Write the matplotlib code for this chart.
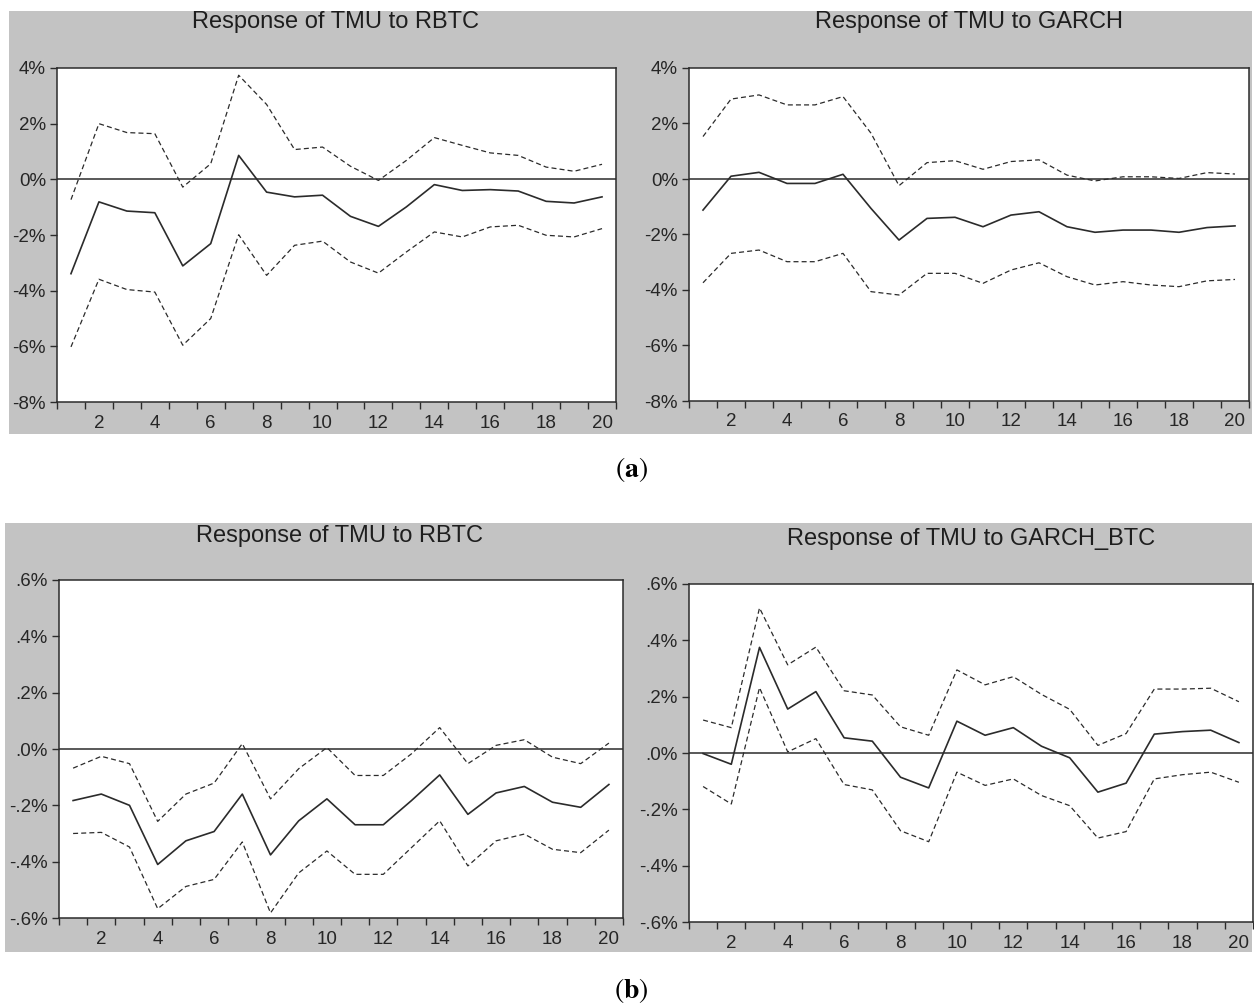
import matplotlib.pyplot as plt
import numpy as np
from matplotlib.patches import Rectangle
from matplotlib.ticker import FixedLocator, FixedFormatter

plt.rcParams['font.family'] = ['Liberation Sans', 'DejaVu Sans']
plt.rcParams['mathtext.fontset'] = 'stix'

periods = np.arange(1, 21)

# (a) response of TMU to RBTC, in %
a1_resp = [-3.39, -0.81, -1.14, -1.20, -3.11, -2.31, 0.86, -0.46, -0.63, -0.57,
           -1.33, -1.69, -0.99, -0.19, -0.40, -0.37, -0.42, -0.79, -0.85, -0.63]
a1_up = [-0.73, 2.00, 1.68, 1.64, -0.28, 0.56, 3.74, 2.69, 1.07, 1.16,
         0.47, -0.04, 0.68, 1.50, 1.22, 0.95, 0.86, 0.44, 0.29, 0.54]
a1_lo = [-6.02, -3.59, -3.96, -4.05, -5.96, -5.00, -1.99, -3.45, -2.37, -2.22,
         -2.97, -3.37, -2.61, -1.89, -2.07, -1.71, -1.65, -2.01, -2.07, -1.77]

# (a) response of TMU to GARCH
a2_resp = [-1.12, 0.10, 0.24, -0.16, -0.16, 0.17, -1.06, -2.20, -1.42, -1.38,
           -1.72, -1.30, -1.18, -1.72, -1.92, -1.84, -1.84, -1.92, -1.75, -1.69]
a2_up = [1.53, 2.88, 3.03, 2.67, 2.67, 2.97, 1.65, -0.24, 0.59, 0.66,
         0.35, 0.63, 0.69, 0.14, -0.07, 0.08, 0.08, 0.02, 0.23, 0.18]
a2_lo = [-3.74, -2.68, -2.56, -2.98, -2.98, -2.68, -4.06, -4.18, -3.40, -3.40,
         -3.76, -3.28, -3.02, -3.52, -3.82, -3.70, -3.82, -3.88, -3.67, -3.62]

# (b) response of TMU to RBTC
b1_resp = [-0.183, -0.160, -0.200, -0.410, -0.326, -0.293, -0.160, -0.376, -0.255, -0.177,
           -0.269, -0.269, -0.183, -0.092, -0.232, -0.156, -0.133, -0.189, -0.207, -0.126]
b1_up = [-0.068, -0.026, -0.052, -0.257, -0.160, -0.121, 0.019, -0.177, -0.070, 0.005,
         -0.094, -0.094, -0.017, 0.076, -0.052, 0.013, 0.033, -0.029, -0.052, 0.021]
b1_lo = [-0.300, -0.296, -0.348, -0.567, -0.488, -0.463, -0.330, -0.582, -0.440, -0.362,
         -0.445, -0.445, -0.350, -0.255, -0.415, -0.326, -0.302, -0.356, -0.368, -0.288]

# (b) response of TMU to GARCH_BTC
b2_resp = [-0.002, -0.040, 0.375, 0.156, 0.218, 0.054, 0.042, -0.086, -0.124, 0.113,
           0.063, 0.090, 0.024, -0.017, -0.139, -0.107, 0.067, 0.076, 0.081, 0.037]
b2_up = [0.117, 0.090, 0.515, 0.313, 0.376, 0.221, 0.206, 0.093, 0.063, 0.295,
         0.242, 0.271, 0.208, 0.155, 0.027, 0.069, 0.227, 0.227, 0.230, 0.182]
b2_lo = [-0.119, -0.181, 0.232, 0.004, 0.051, -0.112, -0.131, -0.276, -0.315, -0.068,
         -0.115, -0.092, -0.151, -0.187, -0.302, -0.279, -0.092, -0.077, -0.068, -0.104]

a_ticks = [4, 2, 0, -2, -4, -6, -8]
a_labels = ["4%", "2%", "0%", "-2%", "-4%", "-6%", "-8%"]
b_ticks = [0.6, 0.4, 0.2, 0.0, -0.2, -0.4, -0.6]
b_labels = [".6%", ".4%", ".2%", ".0%", "-.2%", "-.4%", "-.6%"]

W, H = 1254, 1005
fig = plt.figure(figsize=(W / 100, H / 100), dpi=100)

GREY = "#c3c3c3"
INK = "#2b2b2b"


def px_rect(x0, y0, x1, y1):
    return [x0 / W, 1 - y1 / H, (x1 - x0) / W, (y1 - y0) / H]


# grey backgrounds of the two EViews graphs
for x0, y0, x1, y1 in [(9, 11, 1252, 434), (5, 523, 1252, 952)]:
    fig.patches.append(Rectangle((x0 / W, 1 - y1 / H), (x1 - x0) / W, (y1 - y0) / H,
                                 transform=fig.transFigure, facecolor=GREY,
                                 edgecolor="none", zorder=-10))

panels = [
    (px_rect(57, 68, 616, 402), "Response of TMU to RBTC", (335, 22),
     a1_resp, a1_up, a1_lo, a_ticks, a_labels, (-8, 4)),
    (px_rect(689, 68, 1249, 401), "Response of TMU to GARCH", (969, 22),
     a2_resp, a2_up, a2_lo, a_ticks, a_labels, (-8, 4)),
    (px_rect(59, 580, 623, 918), "Response of TMU to RBTC", (340, 536),
     b1_resp, b1_up, b1_lo, b_ticks, b_labels, (-0.6, 0.6)),
    (px_rect(689, 584, 1253, 922), "Response of TMU to GARCH_BTC", (971, 539),
     b2_resp, b2_up, b2_lo, b_ticks, b_labels, (-0.6, 0.6)),
]

for rect, title, (tx, ty), resp, up, lo, yt, yl, ylim in panels:
    ax = fig.add_axes(rect)
    ax.set_facecolor("white")
    ax.axhline(0, color=INK, lw=1.1, zorder=1)
    ax.plot(periods, resp, color=INK, lw=1.2, zorder=3)
    ax.plot(periods, up, color=INK, lw=0.9, ls=(0, (4, 2.5)), zorder=3)
    ax.plot(periods, lo, color=INK, lw=0.9, ls=(0, (4, 2.5)), zorder=3)
    ax.set_xlim(0.5, 20.5)
    ax.set_ylim(*ylim)
    ax.yaxis.set_major_locator(FixedLocator(yt))
    ax.yaxis.set_major_formatter(FixedFormatter(yl))
    ax.set_xticks(range(2, 21, 2))
    ax.set_xticks(np.arange(0.5, 21, 1), minor=True)
    ax.tick_params(axis="x", which="major", length=0, pad=9, labelsize=13.5, colors="#262626")
    ax.tick_params(axis="x", which="minor", length=5, width=1, color=INK, direction="out")
    ax.tick_params(axis="y", length=5, width=1, color=INK, pad=3, labelsize=13.5,
                   labelcolor="#262626")
    for s in ax.spines.values():
        s.set_color(INK)
        s.set_linewidth(1.1)
    fig.text(tx / W, 1 - ty / H, title, ha="center", va="center", fontsize=17,
             color="#1e1e1e")

fig.text(631 / W, 1 - 470 / H, r"$(\mathbf{a})$", ha="center", va="center", fontsize=20)
fig.text(631 / W, 1 - 990 / H, r"$(\mathbf{b})$", ha="center", va="center", fontsize=20)

fig.savefig("out.png", dpi=100)
